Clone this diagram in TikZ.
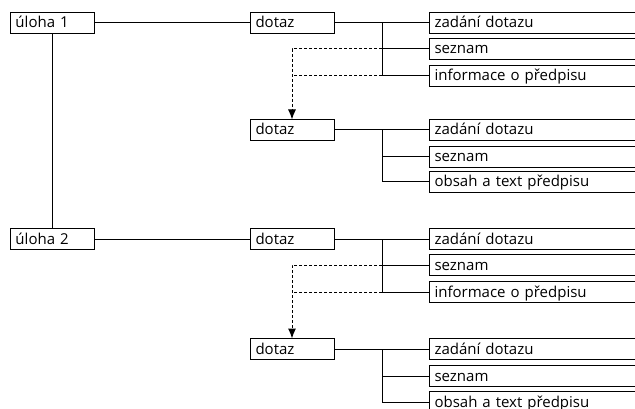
\documentclass[tikz,border=0pt]{standalone}
\usepackage{fontspec}
\setmainfont{Open Sans}
\usetikzlibrary{arrows.meta}
\begin{document}
\begin{tikzpicture}[x=1pt,y=-1pt,
  line width=1pt,
  box/.style={draw, rectangle, anchor=west, minimum height=21pt, inner xsep=5pt, inner ysep=0pt,
    text height=12pt, text depth=2pt, align=left, font=\fontsize{15}{17}\selectfont},
  mainbox/.style={box, text width=74pt},
  subbox/.style={box, text width=205pt},
  link/.style={draw},
  dlink/.style={draw, dashed, dash pattern=on 3pt off 2pt},
  arr/.style={-{Latex[length=10pt,width=8pt]}}]
\useasboundingbox (0,0) rectangle (635,409);
\clip (0,0) rectangle (635,409);
\fill[white] (0,0) rectangle (635,409);

\node[mainbox] (u1) at (10,23) {úloha 1};
\node[mainbox] (u2) at (10,239) {úloha 2};
\node[mainbox] (d1) at (250,23) {dotaz};
\node[mainbox] (d2) at (250,130) {dotaz};
\node[mainbox] (d3) at (250,239) {dotaz};
\node[mainbox] (d4) at (250,349) {dotaz};

\node[subbox] (z1) at (429,23) {zadání dotazu};
\node[subbox] (s1) at (429,49) {seznam};
\node[subbox] (i1) at (429,76) {informace o předpisu};
\node[subbox] (z2) at (429,130) {zadání dotazu};
\node[subbox] (s2) at (429,157) {seznam};
\node[subbox] (o2) at (429,182) {obsah a text předpisu};
\node[subbox] (z3) at (429,239) {zadání dotazu};
\node[subbox] (s3) at (429,265) {seznam};
\node[subbox] (i3) at (429,292) {informace o předpisu};
\node[subbox] (z4) at (429,349) {zadání dotazu};
\node[subbox] (s4) at (429,376) {seznam};
\node[subbox] (o4) at (429,402) {obsah a text předpisu};

\coordinate (j1) at (382,23);
\coordinate (j2) at (382,130);
\coordinate (j3) at (382,239);
\coordinate (j4) at (382,349);
\coordinate (t2) at (292,119.5);
\coordinate (t4) at (292,338.5);

\path[link] (u1) -- (d1);
\path[link] (u1.south) -- (u2.north);
\path[link] (u2) -- (d3);

\path[link] (d1) -- (z1);
\path[link] (j1) |- (s1.west);
\path[link] (j1) |- (i1.west);
\path[link] (d2) -- (z2);
\path[link] (j2) |- (s2.west);
\path[link] (j2) |- (o2.west);
\path[link] (d3) -- (z3);
\path[link] (j3) |- (s3.west);
\path[link] (j3) |- (i3.west);
\path[link] (d4) -- (z4);
\path[link] (j4) |- (s4.west);
\path[link] (j4) |- (o4.west);

\path[dlink, arr] (s1.west -| j1) -| (t2);
\path[dlink] (i1.west -| j1) -- (i1.west -| t2);
\path[dlink, arr] (s3.west -| j3) -| (t4);
\path[dlink] (i3.west -| j3) -- (i3.west -| t4);
\end{tikzpicture}
\end{document}
